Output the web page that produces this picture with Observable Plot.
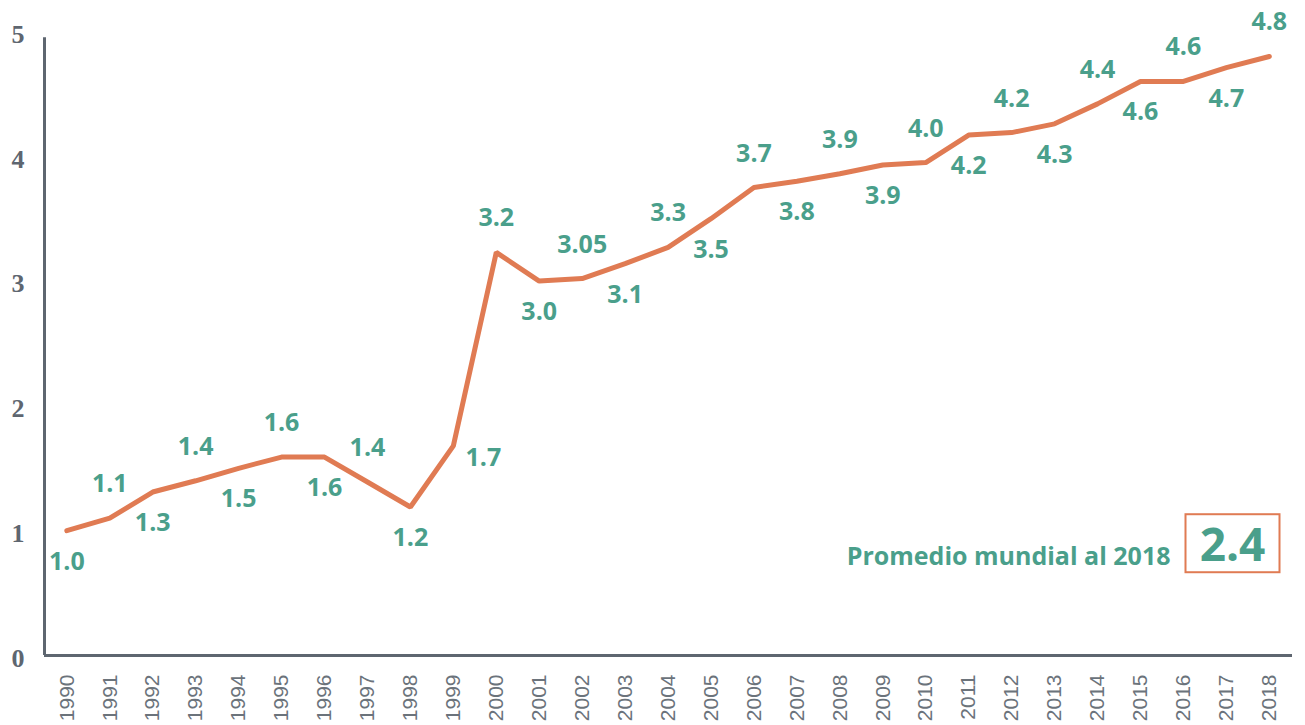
<!DOCTYPE html>
<html><head><meta charset="utf-8">
<script src="https://cdn.jsdelivr.net/npm/d3@7"></script>
<script src="https://cdn.jsdelivr.net/npm/@observablehq/plot@0.6"></script>
<style>body{margin:0;background:#fff}</style>
</head><body><div id="chart"></div>
<script>
const years = [1990,1991,1992,1993,1994,1995,1996,1997,1998,1999,2000,2001,2002,2003,2004,2005,2006,2007,2008,2009,2010,2011,2012,2013,2014,2015,2016,2017,2018];
const values = [1.0,1.1,1.31,1.40,1.50,1.59,1.59,1.39,1.19,1.68,3.23,3.0,3.02,3.14,3.27,3.5,3.75,3.80,3.86,3.93,3.95,4.17,4.19,4.26,4.42,4.6,4.6,4.71,4.8];
const labels = ["1.0","1.1","1.3","1.4","1.5","1.6","1.6","1.4","1.2","1.7","3.2","3.0","3.05","3.1","3.3","3.5","3.7","3.8","3.9","3.9","4.0","4.2","4.2","4.3","4.4","4.6","4.6","4.7","4.8"];
const labelPos = ["below","above","below","above","below","above","below","above","below","right","above","below","above","below","above","below","above","below","above","below","above","below","above","below","above","below","above","below","above"];
const yTicks = [0,1,2,3,4,5];
const worldAvgLabel = "Promedio mundial al 2018";
const worldAvg = "2.4";

const teal = "#4a9f8b", orange = "#e07b53", axisGray = "#5e6670";
const xDomain = [1989.48, 2018.54];
const data = years.map((year, i) => ({year, value: values[i], label: labels[i], pos: labelPos[i]}));
const labelFont = "'Open Sans', Lato, sans-serif";
const labelStyle = {x: "year", y: "value", text: "label", fill: teal, fontSize: 25, fontWeight: "bold", fontFamily: labelFont};

const chart = Plot.plot({
  width: 1305, height: 725,
  marginLeft: 44, marginRight: 13, marginTop: 31, marginBottom: 70,
  x: {domain: xDomain, label: null},
  y: {domain: [0, 5], label: null},
  style: {background: "white"},
  marks: [
    Plot.axisX({ticks: years, tickFormat: d => String(d), tickRotate: -90, tickSize: 0, tickPadding: 19, fontSize: 21, fill: "#6b737b", fontFamily: "Liberation Sans", label: null}),
    Plot.axisY({ticks: yTicks, tickFormat: d => String(d), tickSize: 0, tickPadding: 20, fontSize: 26, fontWeight: "bold", fill: axisGray, fontFamily: "Liberation Serif", label: null, dy: 3}),
    Plot.ruleY([0], {stroke: axisGray, strokeWidth: 3}),
    Plot.ruleX([xDomain[0]], {y1: 0, y2: 4.95, stroke: axisGray, strokeWidth: 3}),
    Plot.line(data, {x: "year", y: "value", stroke: orange, strokeWidth: 5, strokeLinejoin: "miter"}),
    Plot.text(data.filter(d => d.pos === "above"), {...labelStyle, dy: -34}),
    Plot.text(data.filter(d => d.pos === "below"), {...labelStyle, dy: 31}),
    Plot.text(data.filter(d => d.pos === "right"), {...labelStyle, dx: 30, dy: 12}),
    Plot.text([worldAvgLabel], {text: d => d, frameAnchor: "bottom-right", dx: -122, dy: -99, textAnchor: "end", lineAnchor: "middle", fill: teal, fontSize: 25, fontWeight: "bold", fontFamily: labelFont}),
    Plot.text([worldAvg], {text: d => d, frameAnchor: "bottom-right", dx: -60, dy: -109, textAnchor: "middle", lineAnchor: "middle", fill: teal, fontSize: 46, fontWeight: "bold", fontFamily: labelFont})
  ]
});
document.getElementById("chart").appendChild(chart);

// box around the world-average value
d3.select(chart).selectAll("text").filter(function() { return this.textContent === worldAvg; }).each(function() {
  const bb = this.getBBox();
  const r = document.createElementNS("http://www.w3.org/2000/svg", "rect");
  const w = 94, h = 58;
  r.setAttribute("x", bb.x + bb.width / 2 - w / 2);
  r.setAttribute("y", bb.y + bb.height / 2 - h / 2);
  r.setAttribute("width", w);
  r.setAttribute("height", h);
  r.setAttribute("fill", "none");
  r.setAttribute("stroke", orange);
  r.setAttribute("stroke-width", 2);
  if (this.getAttribute("transform")) r.setAttribute("transform", this.getAttribute("transform"));
  this.parentNode.insertBefore(r, this);
});
</script>
</body></html>
